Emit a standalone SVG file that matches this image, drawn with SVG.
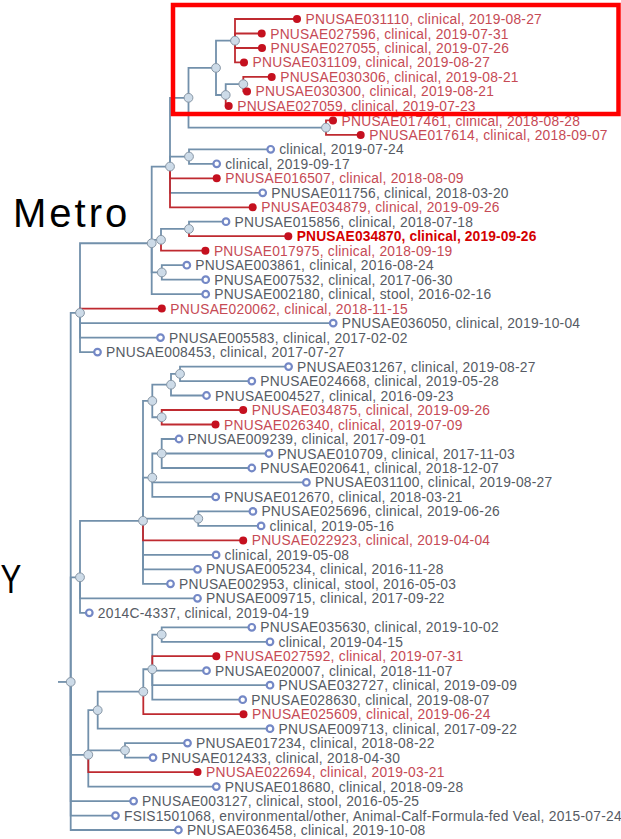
<svg xmlns="http://www.w3.org/2000/svg" width="621" height="839" viewBox="0 0 621 839">
<style>
.e{fill:none;stroke:#7290ab;stroke-width:1.8}
.er{fill:none;stroke:#bf2a30;stroke-width:1.8}
.in{fill:#cddbe8;stroke:#8796a5;stroke-width:1}
.lb{fill:#fff;stroke:#7488c6;stroke-width:2.2}
.lr{fill:#c5101f}
text{font-family:"Liberation Sans",Arial,sans-serif}
.t{font-size:13.8px;letter-spacing:0.25px;fill:#565b64}
.r{fill:#c64a55}
.b{font-weight:bold;fill:#d40000;letter-spacing:0.1px}
.big{font-size:40px;fill:#000}
</style>
<rect width="621" height="839" fill="#fff"/>
<g id="connectors">
<path class="e" d="M58 681.95H70.7"/>
<path class="e" d="M70.7 681.95V312.9H80"/>
<path class="e" d="M70.7 681.95V577.3H80"/>
<path class="e" d="M70.7 681.95V754.8H88.3"/>
<path class="e" d="M70.7 681.95V801.1H133.6"/>
<path class="e" d="M70.7 681.95V815.6H115.5"/>
<path class="e" d="M70.7 681.95V830H178.4"/>
<path class="e" d="M80 312.9V243.25H151.7"/>
<path class="e" d="M80 312.9V323.1H333.2"/>
<path class="e" d="M80 312.9V337.6H160.5"/>
<path class="e" d="M80 312.9V352.1H97.5"/>
<path class="e" d="M151.7 243.25V166.55H170"/>
<path class="e" d="M151.7 243.25V239.8H161"/>
<path class="e" d="M151.7 243.25V272.45H161.8"/>
<path class="e" d="M151.7 243.25V294.2H205.7"/>
<path class="e" d="M170 166.55V97.8H188.5"/>
<path class="e" d="M170 166.55V156.55H189"/>
<path class="e" d="M170 166.55V192.8H262.7"/>
<path class="e" d="M188.5 97.8V67.9H216"/>
<path class="e" d="M188.5 97.8V127.65H326"/>
<path class="e" d="M216 67.9V40.7H235"/>
<path class="e" d="M216 67.9V95H225.7"/>
<path class="e" d="M225.7 95V84.15H243.3"/>
<path class="e" d="M189 156.55V149.3H270.7"/>
<path class="e" d="M189 156.55V163.8H216.7"/>
<path class="e" d="M161 239.8V228.95H189"/>
<path class="e" d="M189 228.95V221.7H226"/>
<path class="e" d="M161.8 272.45V265.2H186.8"/>
<path class="e" d="M161.8 272.45V279.7H205.7"/>
<path class="e" d="M80 577.3V520.8H143"/>
<path class="e" d="M80 577.3V598.3H197.5"/>
<path class="e" d="M80 577.3V612.8H89.3"/>
<path class="e" d="M143 520.8V400.95H152.3"/>
<path class="e" d="M143 520.8V477.6H152.3"/>
<path class="e" d="M143 520.8V518.65H198.3"/>
<path class="e" d="M143 520.8V554.9H216.1"/>
<path class="e" d="M143 520.8V569.3H197.5"/>
<path class="e" d="M143 520.8V583.8H170.5"/>
<path class="e" d="M152.3 400.95V384.7H171"/>
<path class="e" d="M152.3 400.95V417.25H161.7"/>
<path class="e" d="M171 384.7V373.85H180"/>
<path class="e" d="M171 384.7V395.5H206.5"/>
<path class="e" d="M180 373.85V366.6H288.6"/>
<path class="e" d="M180 373.85V381.1H251.8"/>
<path class="e" d="M152.3 477.6V453.5H161.7"/>
<path class="e" d="M152.3 477.6V482.4H306.4"/>
<path class="e" d="M152.3 477.6V496.9H215.7"/>
<path class="e" d="M161.7 453.5V439H179"/>
<path class="e" d="M161.7 453.5H268.9"/>
<path class="e" d="M161.7 453.5V468H251.8"/>
<path class="e" d="M198.3 518.65V511.4H252.9"/>
<path class="e" d="M198.3 518.65V525.9H261.1"/>
<path class="e" d="M88.3 754.8V710.2H97.7"/>
<path class="e" d="M88.3 754.8V750.35H125"/>
<path class="e" d="M88.3 754.8V786.6H216.3"/>
<path class="e" d="M97.7 710.2V691.7H143.3"/>
<path class="e" d="M97.7 710.2V728.7H270"/>
<path class="e" d="M143.3 691.7V669.27H152.3"/>
<path class="e" d="M152.3 669.27V634.55H161.7"/>
<path class="e" d="M152.3 669.27V670.7H206.5"/>
<path class="e" d="M152.3 669.27V685.2H270"/>
<path class="e" d="M152.3 669.27V699.7H242.7"/>
<path class="e" d="M161.7 634.55V627.3H251.8"/>
<path class="e" d="M161.7 634.55V641.8H270"/>
<path class="e" d="M125 750.35V743.1H187.5"/>
<path class="e" d="M125 750.35V757.6H153"/>
<path class="er" d="M80 312.9V308.6H161.8"/>
<path class="er" d="M170 166.55V178.3H216.7"/>
<path class="er" d="M170 166.55V207.3H252.7"/>
<path class="er" d="M235 40.7V19H297"/>
<path class="er" d="M235 40.7V33.5H261.7"/>
<path class="er" d="M235 40.7V48H262"/>
<path class="er" d="M235 40.7V62.4H244"/>
<path class="er" d="M225.7 95V105.9H228.7"/>
<path class="er" d="M243.3 84.15V76.9H271.7"/>
<path class="er" d="M243.3 84.15V91.4H247"/>
<path class="er" d="M326 127.65V120.4H333"/>
<path class="er" d="M326 127.65V134.9H360.7"/>
<path class="er" d="M161 239.8V250.7H205.4"/>
<path class="er" d="M189 228.95V236.2H288.3"/>
<path class="er" d="M143 520.8V540.4H243.2"/>
<path class="er" d="M161.7 417.25V410H243.2"/>
<path class="er" d="M161.7 417.25V424.5H215.5"/>
<path class="er" d="M88.3 754.8V772.1H197.5"/>
<path class="er" d="M143.3 691.7V714.2H243.5"/>
<path class="er" d="M152.3 669.27V656.2H216.3"/>
</g>
<g id="internal-nodes">
<g id="n-root"><circle class="in" cx="70.7" cy="681.95" r="4.4"/></g>
<g id="n-N"><circle class="in" cx="80" cy="312.9" r="4.4"/></g>
<g id="n-J"><circle class="in" cx="151.7" cy="243.25" r="4.4"/></g>
<g id="n-G"><circle class="in" cx="170" cy="166.55" r="4.4"/></g>
<g id="n-E"><circle class="in" cx="188.5" cy="97.8" r="4.4"/></g>
<g id="n-D"><circle class="in" cx="216" cy="67.9" r="4.4"/></g>
<g id="n-A"><circle class="in" cx="235" cy="40.7" r="4.4"/></g>
<g id="n-B"><circle class="in" cx="225.7" cy="95" r="4.4"/></g>
<g id="n-C"><circle class="in" cx="243.3" cy="84.15" r="4.4"/></g>
<g id="n-F"><circle class="in" cx="326" cy="127.65" r="4.4"/></g>
<g id="n-H"><circle class="in" cx="189" cy="156.55" r="4.4"/></g>
<g id="n-K"><circle class="in" cx="161" cy="239.8" r="4.4"/></g>
<g id="n-L"><circle class="in" cx="189" cy="228.95" r="4.4"/></g>
<g id="n-M"><circle class="in" cx="161.8" cy="272.45" r="4.4"/></g>
<g id="n-X"><circle class="in" cx="80" cy="577.3" r="4.4"/></g>
<g id="n-V"><circle class="in" cx="143" cy="520.8" r="4.4"/></g>
<g id="n-R"><circle class="in" cx="152.3" cy="400.95" r="4.4"/></g>
<g id="n-Q"><circle class="in" cx="171" cy="384.7" r="4.4"/></g>
<g id="n-P"><circle class="in" cx="180" cy="373.85" r="4.4"/></g>
<g id="n-S"><circle class="in" cx="161.7" cy="417.25" r="4.4"/></g>
<g id="n-U"><circle class="in" cx="152.3" cy="477.6" r="4.4"/></g>
<g id="n-T"><circle class="in" cx="161.7" cy="453.5" r="4.4"/></g>
<g id="n-W"><circle class="in" cx="198.3" cy="518.65" r="4.4"/></g>
<g id="n-Y6"><circle class="in" cx="88.3" cy="754.8" r="4.4"/></g>
<g id="n-Y4"><circle class="in" cx="97.7" cy="710.2" r="4.4"/></g>
<g id="n-Y3"><circle class="in" cx="143.3" cy="691.7" r="4.4"/></g>
<g id="n-Y2"><circle class="in" cx="152.3" cy="669.27" r="4.4"/></g>
<g id="n-Y1"><circle class="in" cx="161.7" cy="634.55" r="4.4"/></g>
<g id="n-Y5"><circle class="in" cx="125" cy="750.35" r="4.4"/></g>
</g>
<g id="leaves">
<g id="leaf01"><circle class="lr" cx="297" cy="19" r="4"/><text class="t r" x="305.5" y="24">PNUSAE031110, clinical, 2019-08-27</text></g>
<g id="leaf02"><circle class="lr" cx="261.7" cy="33.5" r="4"/><text class="t r" x="270.2" y="38.5">PNUSAE027596, clinical, 2019-07-31</text></g>
<g id="leaf03"><circle class="lr" cx="262" cy="48" r="4"/><text class="t r" x="270.5" y="53">PNUSAE027055, clinical, 2019-07-26</text></g>
<g id="leaf04"><circle class="lr" cx="244" cy="62.4" r="4"/><text class="t r" x="252.5" y="67.4">PNUSAE031109, clinical, 2019-08-27</text></g>
<g id="leaf05"><circle class="lr" cx="271.7" cy="76.9" r="4"/><text class="t r" x="280.2" y="81.9">PNUSAE030306, clinical, 2019-08-21</text></g>
<g id="leaf06"><circle class="lr" cx="247" cy="91.4" r="4"/><text class="t r" x="255.5" y="96.4">PNUSAE030300, clinical, 2019-08-21</text></g>
<g id="leaf07"><circle class="lr" cx="228.7" cy="105.9" r="4"/><text class="t r" x="237.2" y="110.9">PNUSAE027059, clinical, 2019-07-23</text></g>
<g id="leaf08"><circle class="lr" cx="333" cy="120.4" r="4"/><text class="t r" x="341.5" y="125.6">PNUSAE017461, clinical, 2018-08-28</text></g>
<g id="leaf09"><circle class="lr" cx="360.7" cy="134.9" r="4"/><text class="t r" x="369.2" y="139.9">PNUSAE017614, clinical, 2018-09-07</text></g>
<g id="leaf10"><circle class="lb" cx="270.7" cy="149.3" r="3.3"/><text class="t" x="279.2" y="154.3">clinical, 2019-07-24</text></g>
<g id="leaf11"><circle class="lb" cx="216.7" cy="163.8" r="3.3"/><text class="t" x="225.2" y="168.8">clinical, 2019-09-17</text></g>
<g id="leaf12"><circle class="lr" cx="216.7" cy="178.3" r="4"/><text class="t r" x="225.2" y="183.3">PNUSAE016507, clinical, 2018-08-09</text></g>
<g id="leaf13"><circle class="lb" cx="262.7" cy="192.8" r="3.3"/><text class="t" x="271.2" y="197.8">PNUSAE011756, clinical, 2018-03-20</text></g>
<g id="leaf14"><circle class="lr" cx="252.7" cy="207.3" r="4"/><text class="t r" x="261.2" y="212.3">PNUSAE034879, clinical, 2019-09-26</text></g>
<g id="leaf15"><circle class="lb" cx="226" cy="221.7" r="3.3"/><text class="t" x="234.5" y="226.7">PNUSAE015856, clinical, 2018-07-18</text></g>
<g id="leaf16"><circle class="lr" cx="288.3" cy="236.2" r="4"/><text class="t b" x="296.8" y="241.2">PNUSAE034870, clinical, 2019-09-26</text></g>
<g id="leaf17"><circle class="lr" cx="205.4" cy="250.7" r="4"/><text class="t r" x="213.9" y="255.7">PNUSAE017975, clinical, 2018-09-19</text></g>
<g id="leaf18"><circle class="lb" cx="186.8" cy="265.2" r="3.3"/><text class="t" x="195.3" y="270.2">PNUSAE003861, clinical, 2016-08-24</text></g>
<g id="leaf19"><circle class="lb" cx="205.7" cy="279.7" r="3.3"/><text class="t" x="214.2" y="284.7">PNUSAE007532, clinical, 2017-06-30</text></g>
<g id="leaf20"><circle class="lb" cx="205.7" cy="294.2" r="3.3"/><text class="t" x="214.2" y="299.2">PNUSAE002180, clinical, stool, 2016-02-16</text></g>
<g id="leaf21"><circle class="lr" cx="161.8" cy="308.6" r="4"/><text class="t r" x="170.3" y="313.6">PNUSAE020062, clinical, 2018-11-15</text></g>
<g id="leaf22"><circle class="lb" cx="333.2" cy="323.1" r="3.3"/><text class="t" x="341.7" y="328.1">PNUSAE036050, clinical, 2019-10-04</text></g>
<g id="leaf23"><circle class="lb" cx="160.5" cy="337.6" r="3.3"/><text class="t" x="169" y="342.6">PNUSAE005583, clinical, 2017-02-02</text></g>
<g id="leaf24"><circle class="lb" cx="97.5" cy="352.1" r="3.3"/><text class="t" x="106" y="357.1">PNUSAE008453, clinical, 2017-07-27</text></g>
<g id="leaf25"><circle class="lb" cx="288.6" cy="366.6" r="3.3"/><text class="t" x="297.1" y="371.6">PNUSAE031267, clinical, 2019-08-27</text></g>
<g id="leaf26"><circle class="lb" cx="251.8" cy="381.1" r="3.3"/><text class="t" x="260.3" y="386.1">PNUSAE024668, clinical, 2019-05-28</text></g>
<g id="leaf27"><circle class="lb" cx="206.5" cy="395.5" r="3.3"/><text class="t" x="215" y="400.5">PNUSAE004527, clinical, 2016-09-23</text></g>
<g id="leaf28"><circle class="lr" cx="243.2" cy="410" r="4"/><text class="t r" x="251.7" y="415">PNUSAE034875, clinical, 2019-09-26</text></g>
<g id="leaf29"><circle class="lr" cx="215.5" cy="424.5" r="4"/><text class="t r" x="224" y="429.5">PNUSAE026340, clinical, 2019-07-09</text></g>
<g id="leaf30"><circle class="lb" cx="179" cy="439" r="3.3"/><text class="t" x="187.5" y="444">PNUSAE009239, clinical, 2017-09-01</text></g>
<g id="leaf31"><circle class="lb" cx="268.9" cy="453.5" r="3.3"/><text class="t" x="277.4" y="458.5">PNUSAE010709, clinical, 2017-11-03</text></g>
<g id="leaf32"><circle class="lb" cx="251.8" cy="468" r="3.3"/><text class="t" x="260.3" y="473">PNUSAE020641, clinical, 2018-12-07</text></g>
<g id="leaf33"><circle class="lb" cx="306.4" cy="482.4" r="3.3"/><text class="t" x="314.9" y="487.4">PNUSAE031100, clinical, 2019-08-27</text></g>
<g id="leaf34"><circle class="lb" cx="215.7" cy="496.9" r="3.3"/><text class="t" x="224.2" y="501.9">PNUSAE012670, clinical, 2018-03-21</text></g>
<g id="leaf35"><circle class="lb" cx="252.9" cy="511.4" r="3.3"/><text class="t" x="261.4" y="516.4">PNUSAE025696, clinical, 2019-06-26</text></g>
<g id="leaf36"><circle class="lb" cx="261.1" cy="525.9" r="3.3"/><text class="t" x="269.6" y="530.9">clinical, 2019-05-16</text></g>
<g id="leaf37"><circle class="lr" cx="243.2" cy="540.4" r="4"/><text class="t r" x="251.7" y="545.4">PNUSAE022923, clinical, 2019-04-04</text></g>
<g id="leaf38"><circle class="lb" cx="216.1" cy="554.9" r="3.3"/><text class="t" x="224.6" y="559.9">clinical, 2019-05-08</text></g>
<g id="leaf39"><circle class="lb" cx="197.5" cy="569.3" r="3.3"/><text class="t" x="206" y="574.3">PNUSAE005234, clinical, 2016-11-28</text></g>
<g id="leaf40"><circle class="lb" cx="170.5" cy="583.8" r="3.3"/><text class="t" x="179" y="588.8">PNUSAE002953, clinical, stool, 2016-05-03</text></g>
<g id="leaf41"><circle class="lb" cx="197.5" cy="598.3" r="3.3"/><text class="t" x="206" y="603.3">PNUSAE009715, clinical, 2017-09-22</text></g>
<g id="leaf42"><circle class="lb" cx="89.3" cy="612.8" r="3.3"/><text class="t" x="97.8" y="617.8">2014C-4337, clinical, 2019-04-19</text></g>
<g id="leaf43"><circle class="lb" cx="251.8" cy="627.3" r="3.3"/><text class="t" x="260.3" y="632.3">PNUSAE035630, clinical, 2019-10-02</text></g>
<g id="leaf44"><circle class="lb" cx="270" cy="641.8" r="3.3"/><text class="t" x="278.5" y="646.8">clinical, 2019-04-15</text></g>
<g id="leaf45"><circle class="lr" cx="216.3" cy="656.2" r="4"/><text class="t r" x="224.8" y="661.2">PNUSAE027592, clinical, 2019-07-31</text></g>
<g id="leaf46"><circle class="lb" cx="206.5" cy="670.7" r="3.3"/><text class="t" x="215" y="675.7">PNUSAE020007, clinical, 2018-11-07</text></g>
<g id="leaf47"><circle class="lb" cx="270" cy="685.2" r="3.3"/><text class="t" x="278.5" y="690.2">PNUSAE032727, clinical, 2019-09-09</text></g>
<g id="leaf48"><circle class="lb" cx="242.7" cy="699.7" r="3.3"/><text class="t" x="251.2" y="704.7">PNUSAE028630, clinical, 2019-08-07</text></g>
<g id="leaf49"><circle class="lr" cx="243.5" cy="714.2" r="4"/><text class="t r" x="252" y="719.2">PNUSAE025609, clinical, 2019-06-24</text></g>
<g id="leaf50"><circle class="lb" cx="270" cy="728.7" r="3.3"/><text class="t" x="278.5" y="733.7">PNUSAE009713, clinical, 2017-09-22</text></g>
<g id="leaf51"><circle class="lb" cx="187.5" cy="743.1" r="3.3"/><text class="t" x="196" y="748.1">PNUSAE017234, clinical, 2018-08-22</text></g>
<g id="leaf52"><circle class="lb" cx="153" cy="757.6" r="3.3"/><text class="t" x="161.5" y="762.6">PNUSAE012433, clinical, 2018-04-30</text></g>
<g id="leaf53"><circle class="lr" cx="197.5" cy="772.1" r="4"/><text class="t r" x="206" y="777.1">PNUSAE022694, clinical, 2019-03-21</text></g>
<g id="leaf54"><circle class="lb" cx="216.3" cy="786.6" r="3.3"/><text class="t" x="224.8" y="791.6">PNUSAE018680, clinical, 2018-09-28</text></g>
<g id="leaf55"><circle class="lb" cx="133.6" cy="801.1" r="3.3"/><text class="t" x="142.1" y="806.1">PNUSAE003127, clinical, stool, 2016-05-25</text></g>
<g id="leaf56"><circle class="lb" cx="115.5" cy="815.6" r="3.3"/><text class="t" x="124" y="820.6">FSIS1501068, environmental/other, Animal-Calf-Formula-fed Veal, 2015-07-24</text></g>
<g id="leaf57"><circle class="lb" cx="178.4" cy="830" r="3.3"/><text class="t" x="186.9" y="835">PNUSAE036458, clinical, 2019-10-08</text></g>
</g>
<g id="side-labels">
<text class="big" x="13" y="226.5" letter-spacing="3">Metro</text>
<text class="big" transform="translate(0.5 593) scale(0.78 1)" x="0" y="0">Y</text>
</g>
<rect id="highlight" x="173" y="5" width="445.5" height="109" fill="none" stroke="#ff0000" stroke-width="4.5"/>
</svg>
